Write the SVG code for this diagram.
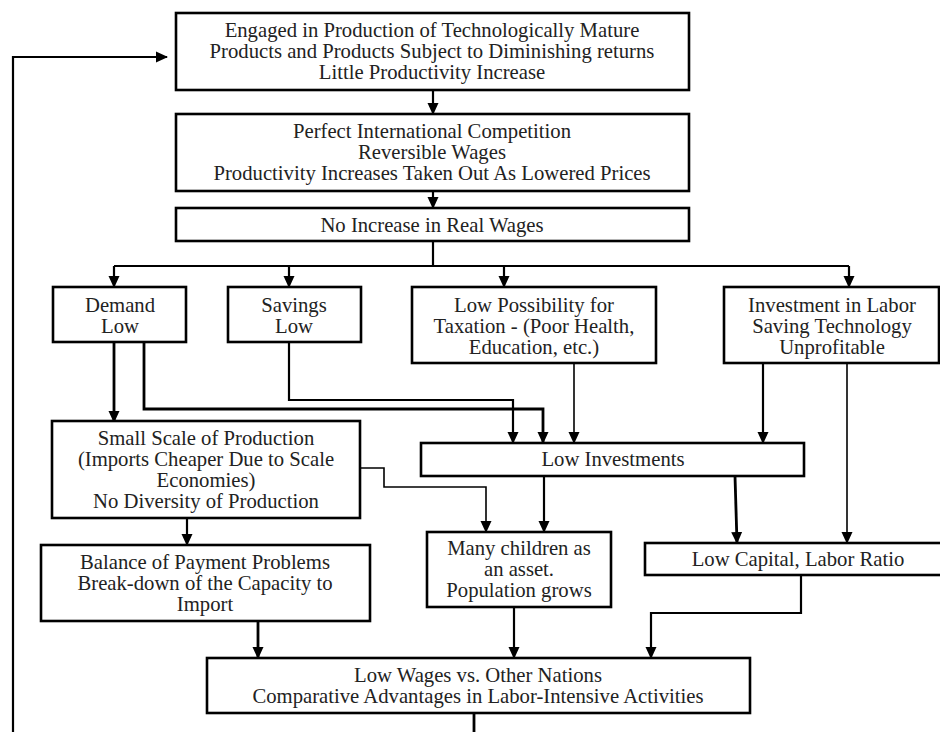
<svg xmlns="http://www.w3.org/2000/svg" width="940" height="732" viewBox="0 0 940 732">
<style>
.box{fill:#fff;stroke:#000;stroke-width:2.6}
text{font-family:"Liberation Serif","Times New Roman",serif;font-size:20.7px;fill:#222;text-anchor:middle}
.c{fill:none;stroke:#000;stroke-width:2.2}
.t{stroke-width:1.6}
.k{stroke-width:2.8}
</style>
<defs>
<marker id="ah" markerUnits="userSpaceOnUse" markerWidth="12" markerHeight="12" viewBox="0 0 12 12" refX="11" refY="6" orient="auto">
<path d="M0,0.5 L12,6 L0,11.5 Z" fill="#000"/>
</marker>
</defs>
<rect width="940" height="732" fill="#fff"/>
<g id="connectors">
<path class="c" d="M433,90 V114" marker-end="url(#ah)"/>
<path class="c" d="M433,191 V208" marker-end="url(#ah)"/>
<path class="c" d="M433,241 V266"/>
<path class="c" d="M114,266 H849"/>
<path class="c" d="M114,266 V287" marker-end="url(#ah)"/>
<path class="c" d="M289,266 V287" marker-end="url(#ah)"/>
<path class="c" d="M504,266 V287" marker-end="url(#ah)"/>
<path class="c" d="M849,266 V287" marker-end="url(#ah)"/>
<path class="c k" d="M114,342 V422" marker-end="url(#ah)"/>
<path class="c k" d="M144,342 V409 H543 V443" marker-end="url(#ah)"/>
<path class="c" d="M289,342 V400 H513 V443" marker-end="url(#ah)"/>
<path class="c t" d="M574,363 V443" marker-end="url(#ah)"/>
<path class="c" d="M763,363 V443" marker-end="url(#ah)"/>
<path class="c t" d="M847,363 V543" marker-end="url(#ah)"/>
<path class="c t" d="M360,468 H384 V487 H486 V532" marker-end="url(#ah)"/>
<path class="c" d="M544,476 V532" marker-end="url(#ah)"/>
<path class="c k" d="M735,476 L737,543" marker-end="url(#ah)"/>
<path class="c" d="M187,518 V545" marker-end="url(#ah)"/>
<path class="c k" d="M258,621 V658" marker-end="url(#ah)"/>
<path class="c" d="M514,607 V658" marker-end="url(#ah)"/>
<path class="c" d="M801,575 V613 H651 V658" marker-end="url(#ah)"/>
<path class="c k" d="M474,713 V732"/>
<path class="c" d="M13,732 V57 H167" marker-end="url(#ah)"/>
</g>
<g id="n1"><rect class="box" x="176" y="13" width="513" height="77"/>
<text x="432" y="37">Engaged in Production of Technologically Mature</text>
<text x="432" y="58">Products and Products Subject to Diminishing returns</text>
<text x="432" y="79">Little Productivity Increase</text></g>
<g id="n2"><rect class="box" x="176" y="114" width="513" height="77"/>
<text x="432" y="138">Perfect International Competition</text>
<text x="432" y="159">Reversible Wages</text>
<text x="432" y="180">Productivity Increases Taken Out As Lowered Prices</text></g>
<g id="n3"><rect class="box" x="176" y="208" width="513" height="33"/>
<text x="432" y="232">No Increase in Real Wages</text></g>
<g id="n4"><rect class="box" x="53" y="287" width="133" height="55"/>
<text x="120" y="312">Demand</text>
<text x="120" y="333">Low</text></g>
<g id="n5"><rect class="box" x="228" y="287" width="133" height="55"/>
<text x="294" y="312">Savings</text>
<text x="294" y="333">Low</text></g>
<g id="n6"><rect class="box" x="412" y="287" width="244" height="76"/>
<text x="534" y="312">Low Possibility for</text>
<text x="534" y="333">Taxation -  (Poor Health,</text>
<text x="534" y="354">Education, etc.)</text></g>
<g id="n7"><rect class="box" x="724" y="287" width="215" height="76"/>
<text x="832" y="312">Investment in Labor</text>
<text x="832" y="333">Saving Technology</text>
<text x="832" y="354">Unprofitable</text></g>
<g id="n8"><rect class="box" x="52" y="421" width="308" height="97"/>
<text x="206" y="445">Small Scale of Production</text>
<text x="206" y="466">(Imports Cheaper Due to Scale</text>
<text x="206" y="487">Economies)</text>
<text x="206" y="508">No Diversity of Production</text></g>
<g id="n9"><rect class="box" x="421" y="443" width="383" height="33"/>
<text x="613" y="466">Low Investments</text></g>
<g id="n10"><rect class="box" x="427" y="532" width="184" height="75"/>
<text x="519" y="555">Many children as</text>
<text x="519" y="576">an asset.</text>
<text x="519" y="597">Population grows</text></g>
<g id="n11"><rect class="box" x="645" y="543" width="306" height="32"/>
<text x="798" y="566">Low Capital, Labor Ratio</text></g>
<g id="n12"><rect class="box" x="41" y="545" width="329" height="76"/>
<text x="205" y="569">Balance of Payment Problems</text>
<text x="205" y="590">Break-down of the Capacity to</text>
<text x="205" y="611">Import</text></g>
<g id="n13"><rect class="box" x="207" y="658" width="543" height="55"/>
<text x="478" y="682">Low Wages vs. Other Nations</text>
<text x="478" y="703">Comparative Advantages in Labor-Intensive Activities</text></g>
</svg>
